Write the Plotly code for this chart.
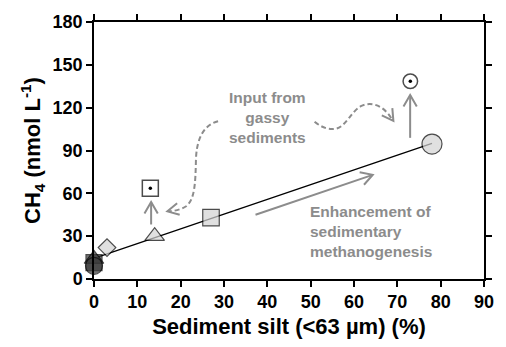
import math
import plotly.graph_objects as go

# ---------------- data ----------------
# filled symbols (one per site)
site_x = [0.0, 0.0, 0.0, 3.0, 14.0, 27.0, 78.0]
site_y = [11.5, 14.0, 9.2, 22.0, 30.0, 43.0, 94.5]
site_symbol = ["square", "triangle-up", "circle", "diamond", "triangle-up", "square", "circle"]
site_fill = ["#3a3a3a", "#3a3a3a", "#3a3a3a", "#d4d4d4", "#d4d4d4", "#d4d4d4", "#d4d4d4"]
site_size = [16, 17, 17, 13.5, 17, 16.5, 20]

# open symbols with dot (gassy-sediment input)
gassy_x = [13.0, 73.0]
gassy_y = [63.5, 138.5]
gassy_symbol = ["square", "circle"]
gassy_size = [16, 14.5]

# fitted trend line
fit_x = [1.0, 14.0, 27.0, 50.0, 78.0]
fit_y = [15.5, 29.0, 42.5, 66.0, 95.0]

x_ticks = [0, 10, 20, 30, 40, 50, 60, 70, 80, 90]
y_ticks = [0, 30, 60, 90, 120, 150, 180]

# ---------------- layout geometry ----------------
W, H = 506, 347
ML, MR, MT, MB = 94, 16, 18, 65
XR = [0, 90]
YR = [0, 180]
PW = W - ML - MR
PH = H - MT - MB
SX = PW / (XR[1] - XR[0])
SY = PH / (YR[1] - YR[0])


def d(px, py):
    """pixel -> data coordinates (for annotation drawing only)"""
    return (XR[0] + (px - ML) / SX, YR[0] + (MT + PH - py) / SY)


def path_from_px(cmds):
    out = []
    for c in cmds:
        if isinstance(c, str):
            out.append(c)
        else:
            x, y = d(*c)
            out.append(f"{x:.4f},{y:.4f}")
    return " ".join(out)


def chevron(tip, frm, L=13.5, ang=30):
    tx, ty = tip
    fx, fy = frm
    vx, vy = fx - tx, fy - ty
    n = math.hypot(vx, vy)
    vx, vy = vx / n, vy / n
    pts = []
    for s in (-1, 1):
        a = math.radians(ang * s)
        rx = vx * math.cos(a) - vy * math.sin(a)
        ry = vx * math.sin(a) + vy * math.cos(a)
        pts.append((tx + L * rx, ty + L * ry))
    return path_from_px(["M", pts[0], "L", tip, "L", pts[1]])


GRAY = "#8c8c8c"
shapes = []


def add_path(p, dash=None, width=2):
    shapes.append(dict(type="path", xref="x", yref="y", path=p,
                       line=dict(color=GRAY, width=width, dash=dash),
                       layer="above"))


# straight arrows
arrows = [((152, 226), (152, 203)),
          ((415, 137), (415, 93)),
          ((258, 216), (377, 175))]
for frm, tip in arrows:
    add_path(path_from_px(["M", frm, "L", tip]))
    add_path(chevron(tip, frm))

# dashed curved arrow (left)
add_path(path_from_px(["M", (220, 120), "C", (204, 124), (198, 140), (197.5, 160),
                       "C", (197, 185), (196, 200), (188, 207),
                       "C", (182, 211), (176, 212), (170, 212.5)]), dash="5px,3px")
add_path(chevron((168.5, 212.5), (180, 210), L=13, ang=28))

# dashed wavy arrow (right)
add_path(path_from_px(["M", (318, 120.5), "C", (326, 127), (333, 129), (340, 127.5),
                       "C", (350, 125), (355, 110), (365, 104.5),
                       "C", (376, 99), (388, 104), (396, 117)]), dash="5px,3px")
add_path(chevron((398, 119.5), (390, 108), L=13, ang=30))

fig = go.Figure()

fig.add_trace(go.Scatter(x=fit_x, y=fit_y, mode="lines",
                         line=dict(color="black", width=1.3),
                         hoverinfo="skip", showlegend=False, cliponaxis=False))

fig.add_trace(go.Scatter(x=site_x, y=site_y, mode="markers",
                         marker=dict(symbol=site_symbol, color=site_fill, size=site_size,
                                     line=dict(color="black", width=1.2)),
                         showlegend=False, cliponaxis=False))

fig.add_trace(go.Scatter(x=gassy_x, y=gassy_y, mode="markers",
                         marker=dict(symbol=gassy_symbol, color="white", size=gassy_size,
                                     line=dict(color="black", width=1.5)),
                         showlegend=False, cliponaxis=False))
fig.add_trace(go.Scatter(x=gassy_x, y=gassy_y, mode="markers",
                         marker=dict(symbol="circle", color="black", size=3.5),
                         showlegend=False, cliponaxis=False))

FONT = "Liberation Sans, Arial, sans-serif"

ix, iy = d(270, 116.5)
ex, ey = d(311, 233.5)
annotations = [
    dict(x=ix, y=iy, xref="x", yref="y", showarrow=False,
         text="<b>Input from<br>gassy<br>sediments</b>", align="center",
         xanchor="center", yanchor="middle",
         font=dict(family=FONT, size=15.5, color=GRAY)),
    dict(x=ex, y=ey, xref="x", yref="y", showarrow=False,
         text="<b>Enhancement of<br>sedimentary<br>methanogenesis</b>", align="left",
         xanchor="left", yanchor="middle",
         font=dict(family=FONT, size=15.5, color=GRAY)),
]

axis_common = dict(showline=True, linecolor="black", linewidth=1.5,
                   ticks="outside", ticklen=6, tickwidth=1.5, tickcolor="black",
                   mirror="ticks", showgrid=False, zeroline=False,
                   tickfont=dict(family=FONT, size=18, color="black", weight="bold"))

fig.update_layout(
    width=W, height=H,
    margin=dict(l=ML, r=MR, t=MT, b=MB),
    paper_bgcolor="white", plot_bgcolor="white",
    xaxis=dict(range=XR, tickvals=x_ticks, **axis_common,
               title=dict(text="<b>Sediment silt (<63 µm) (%)</b>", standoff=7,
                          font=dict(family=FONT, size=22, color="black"))),
    yaxis=dict(range=YR, tickvals=y_ticks, **axis_common,
               title=dict(text="<b>CH<sub>4</sub> (nmol L<sup>-1</sup>)</b>", standoff=6,
                          font=dict(family=FONT, size=22, color="black"))),
    shapes=shapes,
    annotations=annotations,
    showlegend=False,
)

fig.write_html("out.html")
